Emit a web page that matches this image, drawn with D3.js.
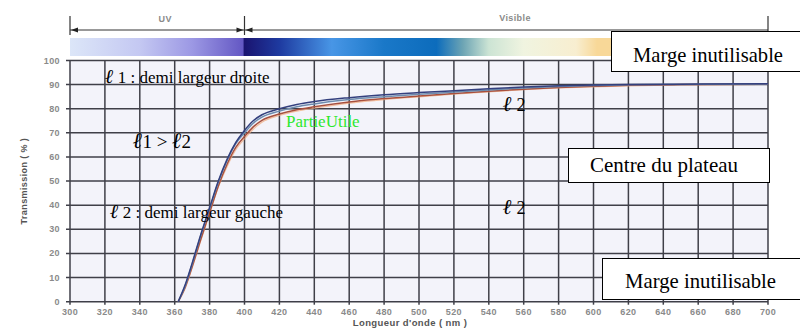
<!DOCTYPE html>
<html>
<head>
<meta charset="utf-8">
<script src="https://cdn.jsdelivr.net/npm/d3@7"></script>
<style>
  body { margin: 0; background: #fff; }
  svg { display: block; }
  .tick-label { font-family: "Liberation Sans", Arial, sans-serif; font-size: 9px; font-weight: bold; fill: #8a8a8a; letter-spacing: 0.4px; }
  .note { font-family: "Liberation Serif", "DejaVu Serif", serif; fill: #000; }
</style>
</head>
<body>
<svg id="chart" width="800" height="329"></svg>
<script>
// wavelengths (nm) shared by every curve
const wavelengths = [362, 366, 370, 375, 380, 385, 390, 395, 400, 405, 410, 420, 430, 440, 460, 480, 500, 520, 540, 560, 580, 600, 620, 650, 700];
// transmission (%)
const navyCurve = [0, 7, 16, 28, 39, 50, 59, 66, 71, 75, 77.5, 80, 81.8, 83, 84.6, 85.8, 86.7, 87.5, 88.3, 89, 89.5, 89.8, 90, 90.2, 90.4];
const steelCurve = [0, 6.5, 15.5, 27.5, 38.5, 49.5, 58.5, 65.5, 70, 74, 76.5, 79, 80.8, 82, 83.8, 85, 86, 86.9, 87.8, 88.6, 89.2, 89.6, 89.9, 90.1, 90.3];
const redCurve = [0, 6, 14.5, 26, 37, 48, 57, 64, 68.5, 72.5, 75.2, 77.8, 79.6, 80.8, 82.8, 84.2, 85.3, 86.3, 87.3, 88.1, 88.8, 89.3, 89.7, 90, 90.2];
const orangeCurve = [0, 5.5, 14, 25.5, 36.5, 47.5, 56, 63, 67.5, 71.5, 74.4, 77.2, 79, 80.2, 82.3, 83.8, 84.9, 86, 87, 87.9, 88.6, 89.1, 89.5, 89.9, 90.1];

const xTicks = d3.range(300, 701, 20);
const yTicks = d3.range(0, 101, 10);

// spectrum bar colour stops (wavelength, colour)
const spectrumStops = [
  [300, "#dce6f8"], [340, "#c4c8f2"], [370, "#9c98e4"], [399, "#6458c4"],
  [400, "#1a1470"], [420, "#1e3aa0"], [450, "#4896e6"], [480, "#1a78c8"],
  [510, "#0c6cbc"], [525, "#6ca4b4"], [540, "#cce4d4"], [560, "#f0f4e0"],
  [590, "#f8eed0"], [602, "#f8d898"], [700, "#f8d898"]
];

const svg = d3.select("#chart");
const x = d3.scaleLinear().domain([300, 700]).range([70, 768]);
const y = d3.scaleLinear().domain([0, 100]).range([301.7, 60.5]);

// plot background
svg.append("rect")
  .attr("x", x(300)).attr("y", y(100))
  .attr("width", x(700) - x(300)).attr("height", y(0) - y(100))
  .attr("fill", "#f3f3fa");

// spectrum bar
const grad = svg.append("defs").append("linearGradient")
  .attr("id", "spectrum").attr("gradientUnits", "userSpaceOnUse")
  .attr("x1", x(300)).attr("x2", x(700)).attr("y1", 0).attr("y2", 0);
grad.selectAll("stop").data(spectrumStops).enter().append("stop")
  .attr("offset", d => (d[0] - 300) / 400)
  .attr("stop-color", d => d[1]);
svg.append("rect")
  .attr("x", x(300)).attr("y", 38).attr("width", x(700) - x(300)).attr("height", 18)
  .attr("fill", "url(#spectrum)");

// UV / visible range markers
const band = svg.append("g").attr("stroke", "#333").attr("stroke-width", 1);
band.append("line").attr("x1", x(300)).attr("x2", x(700)).attr("y1", 30).attr("y2", 30);
[300, 400, 700].forEach(w => {
  band.append("line").attr("x1", x(w)).attr("x2", x(w)).attr("y1", 16).attr("y2", 35).attr("stroke-width", 1.2);
});
const arrow = (tip, dir) => svg.append("path")
  .attr("d", `M${tip},30 l${dir * 7},-2.5 l0,5 z`).attr("fill", "#222");
arrow(x(300) + 1, 1);
arrow(x(400) - 1, -1);
arrow(x(400) + 1, 1);
svg.append("text").attr("class", "tick-label").attr("x", x(350) + 8).attr("y", 22)
  .attr("text-anchor", "middle").text("UV");
svg.append("text").attr("class", "tick-label").attr("x", x(555)).attr("y", 21)
  .attr("text-anchor", "middle").text("Visible");

// grid
const grid = svg.append("g").attr("stroke", "#3f3f48").attr("stroke-width", 1.5);
grid.selectAll(".v").data(xTicks).enter().append("line")
  .attr("x1", d => x(d)).attr("x2", d => x(d))
  .attr("y1", y(100)).attr("y2", y(0) + 3);
grid.selectAll(".h").data(yTicks).enter().append("line")
  .attr("x1", x(300) - 4).attr("x2", x(700))
  .attr("y1", d => y(d)).attr("y2", d => y(d));

// axes labels
svg.selectAll(".ylab").data(yTicks).enter().append("text")
  .attr("class", "tick-label").attr("x", 60).attr("y", d => y(d) + 3)
  .attr("text-anchor", "end").text(d => d);
svg.selectAll(".xlab").data(xTicks).enter().append("text")
  .attr("class", "tick-label").attr("x", d => x(d)).attr("y", 315)
  .attr("text-anchor", "middle").text(d => d);
svg.append("text").attr("class", "tick-label")
  .attr("transform", `translate(27,${y(50)}) rotate(-90)`)
  .attr("text-anchor", "middle").style("fill", "#555").text("Transmission ( % )");
svg.append("text").attr("class", "tick-label").style("font-size", "9.5px").style("fill", "#555")
  .attr("x", 410).attr("y", 326).attr("text-anchor", "middle").text("Longueur d'onde ( nm )");

// curves
const line = d3.line().x(d => x(d[0])).y(d => y(d[1])).curve(d3.curveMonotoneX);
const curves = [
  [orangeCurve, "#f2a878", 1.2, 0.7],
  [redCurve, "#a8503e", 1.5, 1],
  [steelCurve, "#6e8cae", 1.5, 1],
  [navyCurve, "#34407e", 1.5, 1]
];
curves.forEach(([vals, color, w, op]) => {
  svg.append("path")
    .datum(wavelengths.map((wl, i) => [wl, vals[i]]))
    .attr("fill", "none").attr("stroke", color)
    .attr("stroke-width", w).attr("opacity", op)
    .attr("d", line);
});

// annotations
const note = (px, py, size, parts, color) => {
  const t = svg.append("text").attr("class", "note")
    .attr("x", px).attr("y", py).style("font-size", size + "px");
  if (color) t.style("fill", color);
  parts.forEach(([txt, script]) => {
    const s = t.append("tspan").text(txt);
    if (script) s.style("font-style", "italic").style("font-weight", "bold").style("font-size", (size + 3) + "px");
  });
  return t;
};
note(105, 83, 17, [["ℓ", true], [" 1 : demi largeur droite"]]);
note(133, 148, 19, [["ℓ", true], ["1 > "], ["ℓ", true], ["2"]]);
note(110, 218, 17, [["ℓ", true], [" 2 : demi largeur gauche"]]);
note(286, 127, 17, [["PartieUtile"]], "#2ee82e");
note(503, 111, 18, [["ℓ", true], [" 2"]]);
note(503, 214, 18, [["ℓ", true], [" 2"]]);

// boxes
const box = (bx, by, bw, bh, label, tx, ty, len) => {
  svg.append("rect").attr("x", bx).attr("y", by).attr("width", bw).attr("height", bh)
    .attr("fill", "#fff").attr("stroke", "#000").attr("stroke-width", 1);
  svg.append("text").attr("class", "note").attr("x", tx).attr("y", ty)
    .style("font-size", "21px").attr("textLength", len).attr("lengthAdjust", "spacingAndGlyphs")
    .text(label);
};
box(611.5, 31.5, 200, 40, "Marge inutilisable", 633, 62, 150);
box(568.5, 148.5, 201, 34, "Centre du plateau", 590, 172, 148);
box(602.5, 258.5, 210, 41, "Marge inutilisable", 625, 288, 151);
</script>
</body>
</html>
